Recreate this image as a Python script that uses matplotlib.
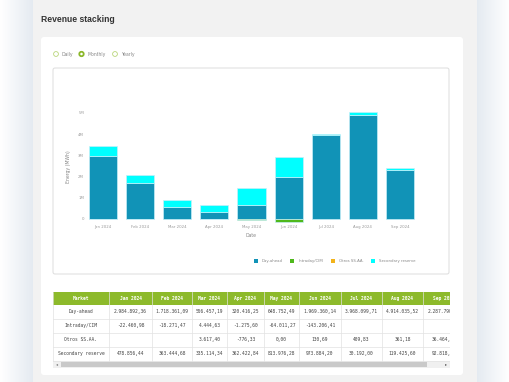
import numpy as np
import matplotlib
matplotlib.use("Agg")
import matplotlib.pyplot as plt
from matplotlib.patches import Rectangle, FancyBboxPatch, Circle
from matplotlib.colors import LinearSegmentedColormap

# ---- data -------------------------------------------------------------
months = ["Jan 2024", "Feb 2024", "Mar 2024", "Apr 2024", "May 2024",
          "Jun 2024", "Jul 2024", "Aug 2024", "Sep 2024"]
series_names = ["Day-ahead", "Intraday/CIM", "Otros SS.AA.", "Secondary reserve"]
day_ahead = [2984892.36, 1718361.09, 556457.19, 320416.25, 648752.49,
             1969360.14, 3968099.71, 4914035.52, 2287790.00]
intraday = [-22460.98, -18271.47, 4444.63, -1275.60, -64011.27,
            -143206.41, None, None, None]
otros = [None, None, 3617.40, -776.33, 0.00, 130.69, 409.83, 361.18, 36464.00]
secondary = [478856.44, 363444.68, 335114.34, 362422.84, 813976.28,
             973884.20, 30192.00, 119425.60, 92818.00]
y_ticks = [0, 1e6, 2e6, 3e6, 4e6, 5e6]
y_tick_labels = ["0", "1M", "2M", "3M", "4M", "5M"]
radio_labels = ["Daily", "Monthly", "Yearly"]

colors = ["#1193b7", "#4fb81c", "#f2b31b", "#00ffff"]

W, H = 510, 382
fig = plt.figure(figsize=(W / 100, H / 100), dpi=100)


def frac(x0, y0, x1, y1):
    # pixel box (top-left origin) -> figure fraction [l, b, w, h]
    return [x0 / W, 1 - y1 / H, (x1 - x0) / W, (y1 - y0) / H]


# ---- page background ---------------------------------------------------
bg = fig.add_axes([0, 0, 1, 1])
bg.set_xlim(0, W)
bg.set_ylim(H, 0)
bg.axis("off")
fig.patch.set_facecolor("white")

shade = LinearSegmentedColormap.from_list("shade", ["#ffffff", "#e4eaf1"])
grad = np.linspace(0, 1, 64).reshape(1, -1)
bg.imshow(grad, cmap=shade, extent=(0, 34, H, 0), aspect="auto", zorder=0)
bg.imshow(grad[:, ::-1], cmap=shade, extent=(476, W, H, 0), aspect="auto", zorder=0)
bg.set_xlim(0, W)
bg.set_ylim(H, 0)
bg.add_patch(Rectangle((33, 0), 444, H, facecolor="#f2f2f2", edgecolor="none", zorder=1))
bg.add_patch(FancyBboxPatch((41, 37), 422, 338, boxstyle="round,pad=0,rounding_size=3",
                            facecolor="white", edgecolor="none", zorder=2))
bg.text(41, 20, "Revenue stacking", fontsize=6.2, fontweight="bold", color="#333333",
        family="Liberation Sans", va="center", ha="left", zorder=3)

# radio buttons
for (cx, tx), lab in zip([(56, 62), (81.5, 88), (115, 121)], radio_labels):
    if lab == "Monthly":
        bg.add_patch(Circle((cx, 54), 2.2, facecolor="white", edgecolor="#8cb82b", lw=1.3, zorder=3))
    else:
        bg.add_patch(Circle((cx, 54), 2.4, facecolor="white", edgecolor="#b9d67a", lw=0.6, zorder=3))
    bg.text(tx, 54.3, lab, fontsize=3.3, color="#888888", va="center", ha="left", zorder=3)

# chart frame
bg.add_patch(FancyBboxPatch((53, 68), 396, 206, boxstyle="round,pad=0,rounding_size=2",
                            facecolor="white", edgecolor="#dcdcdc", lw=0.7, zorder=3))

# ---- bar chart ---------------------------------------------------------
y_lo, y_hi = -0.2e6, 5.5e6
px_per_m = 21.2
top_px = 219 - y_hi / 1e6 * px_per_m
bot_px = 219 - y_lo / 1e6 * px_per_m
ax = fig.add_axes(frac(84.5, top_px, 418.5, bot_px))
ax.set_facecolor("none")
ax.set_zorder(5)

x = np.arange(len(months))
pos_base = np.zeros(len(months))
neg_base = np.zeros(len(months))
for name, vals, col in zip(series_names, [day_ahead, intraday, otros, secondary], colors):
    v = np.array([0.0 if a is None else a for a in vals])
    bottom = np.where(v >= 0, pos_base, neg_base)
    ax.bar(x, v, width=0.76, bottom=bottom, color=col, edgecolor="#c6eef8",
           linewidth=0.5, label=name)
    pos_base += np.where(v >= 0, v, 0)
    neg_base += np.where(v < 0, v, 0)

ax.set_xlim(-0.5, len(months) - 0.5)
ax.set_ylim(y_lo, y_hi)
ax.set_xticks(x)
ax.set_xticklabels(months, fontsize=2.8, color="#999999")
ax.set_yticks(y_ticks)
ax.set_yticklabels(y_tick_labels, fontsize=2.8, color="#999999")
ax.tick_params(length=0, pad=1.5)
ax.tick_params(axis="y", pad=0.3)
for s in ax.spines.values():
    s.set_visible(False)
ax.set_xlabel("Date", fontsize=3.3, color="#888888", labelpad=2.5)
ax.set_ylabel("Energy (MWh)", fontsize=3.3, color="#888888")
ax.yaxis.set_label_coords((71 - 84.5) / 334, (bot_px - 167) / (bot_px - top_px))

# legend
for cx, tx, lab, col in zip([256, 292, 333, 373], [262, 299, 339, 379], series_names, colors):
    bg.add_patch(Rectangle((cx - 1.6, 261 - 1.6), 3.2, 3.2, facecolor=col, edgecolor="none", zorder=4))
    bg.text(tx, 261.3, lab, fontsize=2.8, color="#888888", va="center", ha="left", zorder=4)

# ---- table -------------------------------------------------------------
col_edges = [53, 109, 152, 192, 227, 264, 299, 341, 382, 423, 466]
row_edges = [292, 305, 318.5, 332.5, 346.5, 360.5]
tb = fig.add_axes(frac(53, 292, 450, 368))
tb.set_xlim(53, 450)
tb.set_ylim(368, 292)
tb.axis("off")
tb.set_zorder(6)


def fmt(v):
    if v is None:
        return ""
    s = f"{v:,.2f}"
    return s.replace(",", "X").replace(".", ",").replace("X", ".")


header = ["Market"] + months
rows = [[name] + [fmt(v) for v in vals]
        for name, vals in zip(series_names, [day_ahead, intraday, otros, secondary])]

tb.add_patch(Rectangle((53, 292), 413, 13, facecolor="#8dba2b", edgecolor="none"))
for j, h in enumerate(header):
    xc = (col_edges[j] + col_edges[j + 1]) / 2
    tb.text(xc, 298.7, h, fontsize=3.3, color="white", fontweight="bold",
            family="DejaVu Sans Mono", ha="center", va="center", clip_on=True)
for i, r in enumerate(rows):
    y0, y1 = row_edges[i + 1], row_edges[i + 2]
    tb.plot([53, 466], [y1, y1], color="#e2e2e2", lw=0.5, clip_on=True)
    for j, cell in enumerate(r):
        xc = (col_edges[j] + col_edges[j + 1]) / 2
        tb.text(xc, (y0 + y1) / 2, cell, fontsize=3.3, color="#444444",
                family="DejaVu Sans Mono", ha="center", va="center", clip_on=True)
for xe in col_edges[1:-1]:
    tb.plot([xe, xe], [292, 360.5], color="#e2e2e2", lw=0.5, clip_on=True)
tb.plot([53.3, 53.3], [292, 360.5], color="#e2e2e2", lw=0.5)

# scrollbar
tb.add_patch(Rectangle((53, 360.5), 397, 7.5, facecolor="#f0f0f0", edgecolor="none"))
tb.add_patch(Rectangle((61, 361.8), 366, 5, facecolor="#c9c9c9", edgecolor="none"))
tb.text(57, 364.3, "◂", fontsize=3, color="#777777", ha="center", va="center")
tb.text(446, 364.3, "▸", fontsize=3, color="#555555", ha="center", va="center")

fig.savefig("out.png", dpi=100)
